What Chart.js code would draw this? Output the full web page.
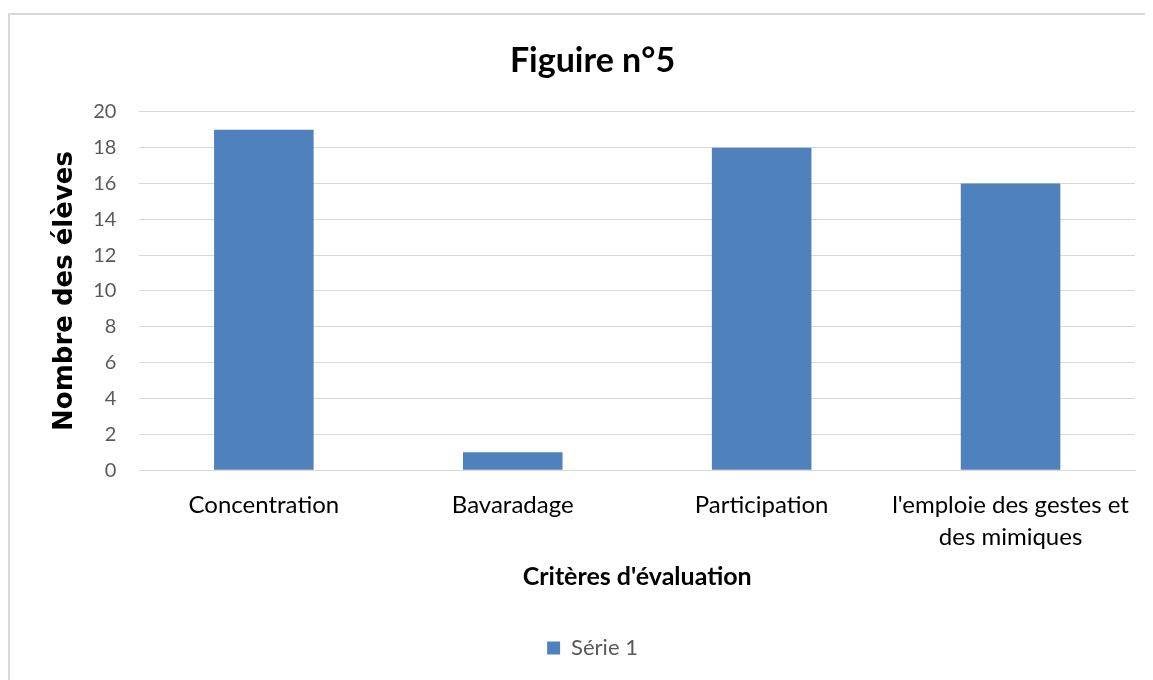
<!DOCTYPE html>
<html>
<head>
<meta charset="utf-8">
<script src="https://cdn.jsdelivr.net/npm/chart.js@4"></script>
<style>
html,body{margin:0;padding:0;background:#fff;}
#wrap{position:absolute;left:0;top:0;width:1153px;height:680px;}
</style>
</head>
<body>
<div id="wrap"><canvas id="c" width="1153" height="680"></canvas></div>
<script>
const categories = ["Concentration", "Bavaradage", "Participation", ["l'emploie des gestes et", "des mimiques"]];
const serie1 = [19, 1, 18, 16];
const seriesName = "Série 1";
const chartTitle = "Figuire n°5";
const yTitle = "Nombre des élèves";
const xTitle = "Critères d'évaluation";
const yMin = 0, yMax = 20, yStep = 2;

const frame = {
  id: 'frame',
  beforeDraw(chart) {
    const ctx = chart.ctx;
    ctx.save();
    ctx.fillStyle = '#fff';
    ctx.fillRect(0, 0, chart.width, chart.height);
    ctx.strokeStyle = '#d9d9d9';
    ctx.lineWidth = 2;
    ctx.beginPath();
    ctx.moveTo(9, 690);
    ctx.lineTo(9, 14);
    ctx.lineTo(1145, 14);
    ctx.stroke();
    ctx.restore();
  }
};

new Chart(document.getElementById('c'), {
  type: 'bar',
  data: {
    labels: categories,
    datasets: [{
      label: seriesName,
      data: serie1,
      backgroundColor: '#4F81BD',
      borderWidth: 0,
      barPercentage: 0.4,
      categoryPercentage: 1.0
    }]
  },
  plugins: [frame],
  options: {
    responsive: false,
    animation: false,
    devicePixelRatio: 1,
    layout: { padding: { left: 50, right: 18, top: 41, bottom: 11 } },
    plugins: {
      title: {
        display: true,
        text: chartTitle,
        color: '#000',
        font: { family: 'Lato', size: 34, weight: 'bold', lineHeight: 1.2 },
        padding: { top: 0, bottom: 30 }
      },
      legend: {
        display: true,
        position: 'bottom',
        labels: {
          color: '#595959',
          font: { family: 'Lato', size: 22 },
          boxWidth: 13,
          boxHeight: 13,
          padding: 10
        }
      },
      tooltip: { enabled: false }
    },
    scales: {
      x: {
        grid: { display: false, drawTicks: false },
        border: { display: true, color: '#d9d9d9', width: 1 },
        ticks: {
          color: '#000',
          font: { family: 'Lato', size: 24, lineHeight: 1.33 },
          maxRotation: 0,
          autoSkip: false,
          padding: 19
        },
        title: {
          display: true,
          text: xTitle,
          color: '#000',
          font: { family: 'Lato', size: 25, weight: 'bold', lineHeight: 1.2 },
          padding: { top: -10, bottom: 35 }
        }
      },
      y: {
        min: yMin,
        max: yMax,
        ticks: {
          stepSize: yStep,
          color: '#595959',
          font: { family: 'Lato', size: 20 },
          padding: 23
        },
        grid: { color: '#d9d9d9', lineWidth: 1, drawTicks: false },
        border: { display: false },
        title: {
          display: true,
          text: yTitle,
          color: '#000',
          font: { family: 'DejaVu Sans', size: 26, weight: 'bold', lineHeight: 1.2 },
          padding: { top: 0, bottom: -11 }
        }
      }
    }
  }
});
</script>
</body>
</html>
